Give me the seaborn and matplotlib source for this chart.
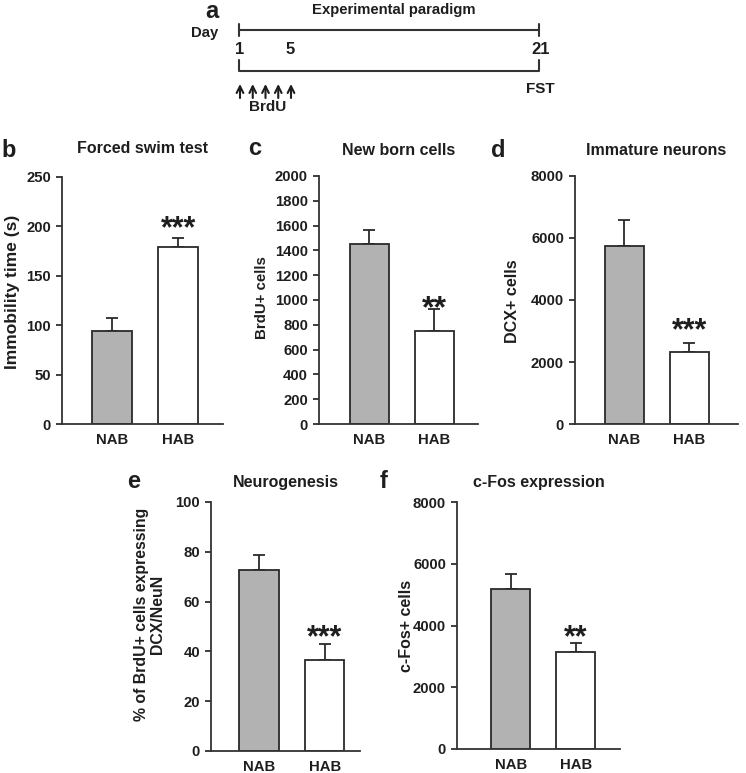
import matplotlib
matplotlib.use("Agg")
import matplotlib.pyplot as plt
import seaborn as sns
import pandas as pd

sns.set_style("ticks")
plt.rcParams['font.family'] = ['Liberation Sans', 'DejaVu Sans']
plt.rcParams['font.weight'] = 'bold'
plt.rcParams['axes.labelweight'] = 'bold'

TXT = '#1e1e1e'

# ---------------- data ----------------
groups = ["NAB", "HAB"]

fst_mean = [94, 179]
fst_sem = [13, 9]

brdu_mean = [1455, 750]
brdu_sem = [113, 177]

dcx_mean = [5735, 2330]
dcx_sem = [840, 290]

neuro_mean = [72.5, 36.6]
neuro_sem = [6.4, 6.4]

cfos_mean = [5166, 3148]
cfos_sem = [518, 291]

stars_b = "***"
stars_c = "**"
stars_d = "***"
stars_e = "***"
stars_f = "**"

# paradigm schematic
paradigm_days = ["1", "5", "21"]
brdu_injections = 5

W, H = 746, 773
fig = plt.figure(figsize=(W / 100, H / 100), dpi=100)

def fr(x0, y0, x1, y1):
    # pixel box -> figure fraction rect
    return [x0 / W, 1 - y1 / H, (x1 - x0) / W, (y1 - y0) / H]

bar_colors = ['#b2b2b2', '#ffffff']
EDGE = '#2a2a2a'
TITLE_FS = 11.5

def panel(rect, means, sems, ymax, ystep, ylabel, title, letter, stars,
          xlim, lab_xy, lab_fs, title_y, letter_xy, star_off, star_fs=22):
    ax = fig.add_axes(rect)
    df = pd.DataFrame({"group": groups, "value": means})
    sns.barplot(data=df, x="group", y="value", hue="group", palette=bar_colors,
                edgecolor=EDGE, linewidth=1.3, width=0.6, legend=False, ax=ax,
                errorbar=None)
    ax.errorbar([0, 1], means, yerr=[[0, 0], sems], fmt='none',
                ecolor=EDGE, elinewidth=1.3, capsize=4.5, capthick=1.3,
                zorder=1)
    for p in ax.patches:
        p.set_zorder(2)
    ax.set_ylim(0, ymax)
    ax.set_yticks(list(range(0, int(ymax) + 1, int(ystep))))
    ax.set_xlim(*xlim)
    sns.despine(ax=ax)
    for s in ['left', 'bottom']:
        ax.spines[s].set_linewidth(1.3)
        ax.spines[s].set_color('#333333')
    ax.tick_params(axis='y', length=4, width=1.2, pad=4, labelsize=10.7,
                   colors=TXT)
    ax.tick_params(axis='x', length=0, pad=6.5, labelsize=10.7, colors=TXT)
    for lab in ax.get_xticklabels() + ax.get_yticklabels():
        lab.set_fontweight('bold')
    ax.set_xlabel("")
    ax.set_ylabel(ylabel, fontsize=lab_fs, fontweight='bold', color=TXT,
                  linespacing=1.1)
    ax.yaxis.set_label_coords(*lab_xy)
    ax.text(0.5, title_y, title, transform=ax.transAxes, ha='center',
            va='baseline', fontsize=TITLE_FS, fontweight='bold', color=TXT)
    ax.annotate(stars, xy=(1, means[1] + sems[1]), xytext=(0, star_off),
                textcoords='offset points', ha='center', va='baseline',
                fontsize=star_fs, fontweight='bold', color=TXT)
    ax.text(letter_xy[0], letter_xy[1], letter, transform=ax.transAxes,
            fontsize=17, fontweight='bold', color=TXT, ha='center',
            va='baseline')
    return ax

# b
panel(fr(62, 177, 223, 424), fst_mean, fst_sem, 250, 50,
      "Immobility time (s)", "Forced swim test", "b", stars_b,
      (-0.758, 1.68), (-0.26, 0.534), 12.5, 1 + (177 - 153) / 247,
      ((8.5 - 62) / 161, 1 + (177 - 157) / 247), 1.0)
# c
panel(fr(319, 176, 478, 424), brdu_mean, brdu_sem, 2000, 200,
      "BrdU+ cells", "New born cells", "c", stars_c,
      (-0.777, 1.67), (-0.314, 0.51), 10.8, 1 + (176 - 155) / 248,
      ((255 - 319) / 159, 1 + (176 - 155) / 248), -6, 23)
# d
panel(fr(575, 176, 738, 424), dcx_mean, dcx_sem, 8000, 2000,
      "DCX+ cells", "Immature neurons", "d", stars_d,
      (-0.754, 1.75), (-0.337, 0.497), 11.6, 1 + (176 - 155) / 248,
      ((498 - 575) / 163, 1 + (176 - 157) / 248), 2.5)
# e
panel(fr(211, 502, 360, 751), neuro_mean, neuro_sem, 100, 20,
      "% of BrdU+ cells expressing\nDCX/NeuN", "Neurogenesis", "e", stars_e,
      (-0.733, 1.54), (-0.309, 0.55), 11.4, 1 + (502 - 487) / 249,
      ((134 - 211) / 149, 1 + (502 - 488) / 249), -1.6)
# f
panel(fr(457, 502, 620, 749), cfos_mean, cfos_sem, 8000, 2000,
      "c-Fos+ cells", "c-Fos expression", "f", stars_f,
      (-0.826, 1.68), (-0.264, 0.5), 11.5, 1 + (502 - 487) / 247,
      ((384 - 457) / 163, 1 + (502 - 488) / 247), -2.5)

# ---------------- panel a: schematic ----------------
axa = fig.add_axes([0, 1 - 125 / H, 1, 125 / H])
axa.set_xlim(0, W)
axa.set_ylim(125, 0)
axa.axis('off')
lc = '#333333'
lw = 1.5
x0, x1 = 239, 539
axa.plot([x0, x1], [30, 30], color=lc, lw=lw)
axa.plot([x0, x0], [24, 36], color=lc, lw=lw)
axa.plot([x1, x1], [24, 36], color=lc, lw=lw)
axa.plot([x0, x0, x1, x1], [60, 71, 71, 60], color=lc, lw=lw)
axa.text(394, 10, "Experimental paradigm", ha='center', va='center',
         fontsize=10.7, fontweight='bold', color=TXT)
axa.text(212, 12, "a", ha='center', va='center', fontsize=17,
         fontweight='bold', color=TXT)
axa.text(205, 33, "Day", ha='center', va='center', fontsize=10.7,
         fontweight='bold', color=TXT)
for lab, xx in zip(paradigm_days, [240, 290, 541]):
    axa.text(xx, 50, lab, ha='center', va='center', fontsize=12,
             fontweight='bold', color=TXT)
arrow_x = [240 + i * 12.75 for i in range(brdu_injections)]
for xx in arrow_x:
    axa.annotate("", xy=(xx, 84), xytext=(xx, 98),
                 arrowprops=dict(arrowstyle='->', color=TXT, lw=1.5,
                                 mutation_scale=12, shrinkA=0, shrinkB=0))
axa.text(268, 107, "BrdU", ha='center', va='center', fontsize=11,
         fontweight='bold', color=TXT)
axa.text(540, 89, "FST", ha='center', va='center', fontsize=11,
         fontweight='bold', color=TXT)

fig.savefig("out.png", dpi=100)
